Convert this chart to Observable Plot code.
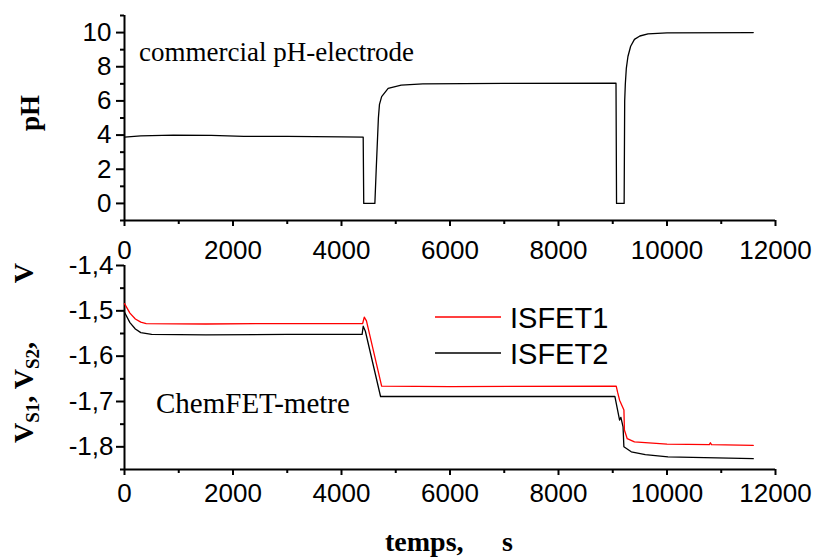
<!DOCTYPE html>
<html>
<head>
<meta charset="utf-8">
<script src="https://cdn.jsdelivr.net/npm/d3@7"></script>
<script src="https://cdn.jsdelivr.net/npm/@observablehq/plot@0.6"></script>
<style>
  html, body { margin: 0; padding: 0; background: #fff; }
  #wrap { position: relative; width: 816px; height: 558px; overflow: hidden; background: #fff; }
  #top, #bottom { position: absolute; left: 0; }
  #top { top: 0; }
  #bottom { top: 253px; }
  #overlay { position: absolute; left: 0; top: 0; pointer-events: none; }
</style>
</head>
<body>
<div id="wrap">
  <div id="top"></div>
  <div id="bottom"></div>
</div>
<script>
// ---- data ----
const tPH = [0, 300, 900, 1600, 2200, 3000, 4000, 4400, 4410, 4615, 4640, 4680, 4700, 4740, 4860, 5100, 5500, 7000, 9060, 9070, 9210, 9220, 9232, 9250, 9280, 9330, 9400, 9500, 9650, 10000, 11590];
const vPH = [3.88, 3.95, 4.0, 3.98, 3.93, 3.92, 3.9, 3.88, 0, 0, 2, 5, 5.8, 6.25, 6.73, 6.92, 7.0, 7.03, 7.04, 0, 0, 6, 7, 7.9, 8.6, 9.2, 9.6, 9.8, 9.92, 9.98, 10.0];

const tS1 = [0, 100, 200, 300, 400, 1500, 3000, 4390, 4420, 4460, 4740, 6000, 9064, 9090, 9126, 9206, 9215, 9267, 9400, 10000, 10780, 10800, 10820, 11590];
const vS1 = [-1.484, -1.505, -1.518, -1.525, -1.528, -1.529, -1.528, -1.528, -1.514, -1.522, -1.666, -1.667, -1.666, -1.68, -1.697, -1.719, -1.763, -1.782, -1.789, -1.794, -1.795, -1.791, -1.795, -1.797];

const tS2 = [0, 100, 200, 300, 500, 1500, 3000, 4380, 4400, 4440, 4720, 6000, 9040, 9126, 9150, 9190, 9205, 9341, 9600, 10018, 11590];
const vS2 = [-1.503, -1.526, -1.54, -1.548, -1.552, -1.553, -1.552, -1.552, -1.534, -1.545, -1.689, -1.689, -1.689, -1.741, -1.735, -1.756, -1.8, -1.811, -1.817, -1.822, -1.826];

const xMajor = [0, 2000, 4000, 6000, 8000, 10000, 12000];
const xMinor = [1000, 3000, 5000, 7000, 9000, 11000];
const phMajor = [0, 2, 4, 6, 8, 10];
const phMinor = [-1, 1, 3, 5, 7, 9, 11];
const vMajor = [-1.8, -1.7, -1.6, -1.5, -1.4];
const vMinor = [-1.85, -1.75, -1.65, -1.55, -1.45];
const seriesNames = ["ISFET1", "ISFET2"];
const seriesColors = ["#ff0000", "#000000"];

// ---- build tables ----
const phData = tPH.map((t, i) => ({t, v: vPH[i]}));
const s1Data = tS1.map((t, i) => ({t, v: vS1[i]}));
const s2Data = tS2.map((t, i) => ({t, v: vS2[i]}));

const sansFont = "'Liberation Sans', Arial, sans-serif";
const tickFont = 26;
const commonStyle = {fontFamily: sansFont, fontSize: tickFont + "px", color: "black", background: "transparent", overflow: "visible"};

const topPlot = Plot.plot({
  width: 816, height: 253,
  marginLeft: 124, marginRight: 41, marginTop: 15, marginBottom: 33,
  x: {domain: [0, 12000]},
  y: {domain: [-1, 11]},
  style: commonStyle,
  marks: [
    Plot.axisX(xMajor, {tickSize: 6, tickPadding: 14, fontSize: tickFont, label: null, strokeWidth: 2, tickFormat: d => String(d)}),
    Plot.axisX(xMinor, {tickSize: 4, label: null, strokeWidth: 2, tickFormat: () => ""}),
    Plot.axisY(phMajor, {tickSize: 8, tickPadding: 5, fontSize: tickFont, label: null, strokeWidth: 2, tickFormat: d => String(d)}),
    Plot.axisY(phMinor, {tickSize: 4, label: null, strokeWidth: 2, tickFormat: () => ""}),
    Plot.ruleX([0], {strokeWidth: 2}),
    Plot.ruleY([-1], {strokeWidth: 2}),
    Plot.line(phData, {x: "t", y: "v", stroke: "black", strokeWidth: 1.3})
  ]
});

const bottomPlot = Plot.plot({
  width: 816, height: 305,
  marginLeft: 124, marginRight: 41, marginTop: 12, marginBottom: 89,
  x: {domain: [0, 12000]},
  y: {domain: [-1.85, -1.4]},
  style: commonStyle,
  marks: [
    Plot.axisX(xMajor, {tickSize: 6, tickPadding: 8, fontSize: tickFont, label: null, strokeWidth: 2, tickFormat: d => String(d)}),
    Plot.axisX(xMinor, {tickSize: 4, label: null, strokeWidth: 2, tickFormat: () => ""}),
    Plot.axisY(vMajor, {tickSize: 8, tickPadding: 3, fontSize: tickFont, label: null, strokeWidth: 2, tickFormat: d => d.toFixed(1).replace(".", ",")}),
    Plot.axisY(vMinor, {tickSize: 4, label: null, strokeWidth: 2, tickFormat: () => ""}),
    Plot.ruleX([0], {strokeWidth: 2}),
    Plot.ruleY([-1.85], {strokeWidth: 2}),
    Plot.line(s2Data, {x: "t", y: "v", stroke: seriesColors[1], strokeWidth: 1.3}),
    Plot.line(s1Data, {x: "t", y: "v", stroke: seriesColors[0], strokeWidth: 1.3})
  ]
});

document.getElementById("top").appendChild(topPlot);
document.getElementById("bottom").appendChild(bottomPlot);

// ---- overlay: titles, annotations, legend ----
const serif = "'Liberation Serif', 'Times New Roman', serif";
const svg = d3.select("#wrap").append("svg")
  .attr("id", "overlay").attr("width", 816).attr("height", 558);

// y title top: pH
svg.append("text")
  .attr("transform", "translate(39,113) rotate(-90)")
  .attr("text-anchor", "middle")
  .attr("font-family", serif).attr("font-weight", "bold").attr("font-size", 27)
  .text("pH");

// y title bottom: V_S1, V_S2,   V
const yl = svg.append("text")
  .attr("transform", "translate(33,443) rotate(-90)")
  .attr("text-anchor", "start")
  .attr("font-family", serif).attr("font-weight", "bold").attr("font-size", 28);
yl.append("tspan").text("V");
yl.append("tspan").attr("font-size", 19).attr("dy", 6).text("S1");
yl.append("tspan").attr("dy", -6).text(", V");
yl.append("tspan").attr("font-size", 19).attr("dy", 6).text("S2");
yl.append("tspan").attr("dy", -6).text(",");
svg.append("text")
  .attr("transform", "translate(33,263) rotate(-90)")
  .attr("text-anchor", "end")
  .attr("font-family", serif).attr("font-weight", "bold").attr("font-size", 28)
  .text("V");

// x title
svg.append("text").attr("x", 385).attr("y", 551)
  .attr("font-family", serif).attr("font-weight", "bold").attr("font-size", 28)
  .text("temps,");
svg.append("text").attr("x", 502).attr("y", 551)
  .attr("font-family", serif).attr("font-weight", "bold").attr("font-size", 28)
  .text("s");

// annotations
svg.append("text").attr("x", 139).attr("y", 61)
  .attr("font-family", serif).attr("font-size", 27)
  .text("commercial pH-electrode");
svg.append("text").attr("x", 156).attr("y", 413)
  .attr("font-family", serif).attr("font-size", 29)
  .text("ChemFET-metre");

// legend
const legendY = [317, 353];
seriesNames.forEach((name, i) => {
  svg.append("line").attr("x1", 435).attr("x2", 501).attr("y1", legendY[i]).attr("y2", legendY[i])
    .attr("stroke", seriesColors[i]).attr("stroke-width", 1.3);
  svg.append("text").attr("x", 510).attr("y", legendY[i] + 11)
    .attr("font-family", sansFont).attr("font-size", 29)
    .text(name);
});
</script>
</body>
</html>
